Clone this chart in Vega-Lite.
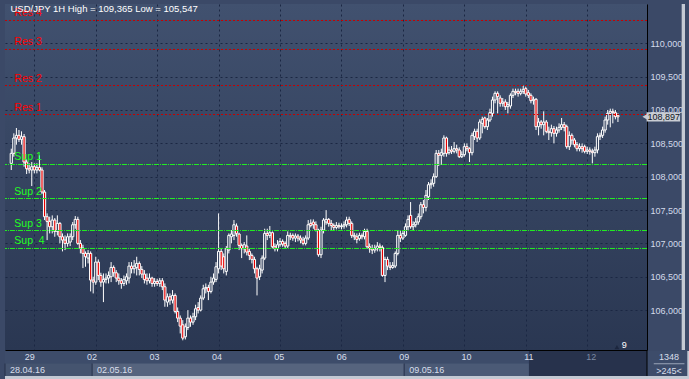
{
  "$schema": "https://vega.github.io/schema/vega-lite/v6.json",
  "background": "#3b4967",
  "padding": {"left": 4, "top": 4, "right": 0, "bottom": 0},
  "bounds": "flush",
  "spacing": 1,
  "resolve": {"scale": {"fill": "independent", "stroke": "independent", "color": "independent"}},
  "config": {"font": "Liberation Sans", "view": {"stroke": null}},
  "datasets": {
    "candles": [
      {"t":0,"o":108.20,"h":108.42,"l":108.10,"c":108.35},
      {"t":1,"o":108.35,"h":108.65,"l":108.30,"c":108.58},
      {"t":2,"o":108.58,"h":108.73,"l":108.48,"c":108.62},
      {"t":3,"o":108.62,"h":108.70,"l":108.52,"c":108.56},
      {"t":4,"o":108.56,"h":108.68,"l":108.48,"c":108.60},
      {"t":5,"o":108.60,"h":108.64,"l":108.15,"c":108.22},
      {"t":6,"o":108.22,"h":108.26,"l":108.04,"c":108.12},
      {"t":7,"o":108.12,"h":108.20,"l":108.05,"c":108.10},
      {"t":8,"o":108.10,"h":108.22,"l":107.86,"c":108.15},
      {"t":9,"o":108.15,"h":108.20,"l":108.05,"c":108.10},
      {"t":10,"o":108.10,"h":108.20,"l":108.05,"c":108.14},
      {"t":11,"o":108.14,"h":108.32,"l":108.08,"c":108.10},
      {"t":12,"o":108.10,"h":108.14,"l":107.74,"c":107.77},
      {"t":13,"o":107.77,"h":107.80,"l":107.35,"c":107.40},
      {"t":14,"o":107.40,"h":107.45,"l":107.05,"c":107.33},
      {"t":15,"o":107.33,"h":107.40,"l":107.15,"c":107.25},
      {"t":16,"o":107.25,"h":107.42,"l":107.15,"c":107.35},
      {"t":17,"o":107.35,"h":107.38,"l":107.10,"c":107.18},
      {"t":18,"o":107.18,"h":107.42,"l":107.12,"c":107.30},
      {"t":19,"o":107.30,"h":107.32,"l":107.00,"c":107.10},
      {"t":20,"o":107.10,"h":107.15,"l":106.88,"c":107.05},
      {"t":21,"o":107.05,"h":107.12,"l":106.90,"c":107.00},
      {"t":22,"o":107.00,"h":107.15,"l":106.95,"c":107.10},
      {"t":23,"o":107.02,"h":107.15,"l":106.96,"c":107.10},
      {"t":24,"o":107.10,"h":107.32,"l":107.05,"c":107.28},
      {"t":25,"o":107.28,"h":107.41,"l":107.22,"c":107.36},
      {"t":26,"o":107.36,"h":107.40,"l":106.98,"c":107.00},
      {"t":27,"o":107.00,"h":107.05,"l":106.85,"c":106.93},
      {"t":28,"o":106.93,"h":106.98,"l":106.63,"c":106.85},
      {"t":29,"o":106.85,"h":106.88,"l":106.65,"c":106.80},
      {"t":30,"o":106.78,"h":106.90,"l":106.70,"c":106.85},
      {"t":31,"o":106.85,"h":106.88,"l":106.28,"c":106.45},
      {"t":32,"o":106.45,"h":106.50,"l":106.25,"c":106.42},
      {"t":33,"o":106.42,"h":106.80,"l":106.38,"c":106.72},
      {"t":34,"o":106.72,"h":106.76,"l":106.45,"c":106.52},
      {"t":35,"o":106.52,"h":106.56,"l":106.35,"c":106.42},
      {"t":36,"o":106.42,"h":106.55,"l":106.12,"c":106.46},
      {"t":37,"o":106.46,"h":106.55,"l":106.40,"c":106.48},
      {"t":38,"o":106.48,"h":106.58,"l":106.40,"c":106.52},
      {"t":39,"o":106.50,"h":106.72,"l":106.42,"c":106.64},
      {"t":40,"o":106.64,"h":106.67,"l":106.50,"c":106.56},
      {"t":41,"o":106.56,"h":106.60,"l":106.42,"c":106.48},
      {"t":42,"o":106.48,"h":106.55,"l":106.38,"c":106.44},
      {"t":43,"o":106.44,"h":106.48,"l":106.32,"c":106.40},
      {"t":44,"o":106.40,"h":106.52,"l":106.36,"c":106.46},
      {"t":45,"o":106.44,"h":106.55,"l":106.38,"c":106.50},
      {"t":46,"o":106.48,"h":106.72,"l":106.40,"c":106.66},
      {"t":47,"o":106.66,"h":106.72,"l":106.55,"c":106.62},
      {"t":48,"o":106.62,"h":106.75,"l":106.55,"c":106.66},
      {"t":49,"o":106.64,"h":106.80,"l":106.52,"c":106.70},
      {"t":50,"o":106.70,"h":106.73,"l":106.52,"c":106.61},
      {"t":51,"o":106.61,"h":106.66,"l":106.48,"c":106.54},
      {"t":52,"o":106.54,"h":106.60,"l":106.40,"c":106.46},
      {"t":53,"o":106.48,"h":106.55,"l":106.38,"c":106.44},
      {"t":54,"o":106.44,"h":106.55,"l":106.40,"c":106.48},
      {"t":55,"o":106.48,"h":106.50,"l":106.35,"c":106.40},
      {"t":56,"o":106.40,"h":106.48,"l":106.35,"c":106.43},
      {"t":57,"o":106.43,"h":106.47,"l":106.36,"c":106.40},
      {"t":58,"o":106.40,"h":106.48,"l":106.35,"c":106.44},
      {"t":59,"o":106.44,"h":106.48,"l":106.30,"c":106.35},
      {"t":60,"o":106.35,"h":106.40,"l":106.05,"c":106.15},
      {"t":61,"o":106.12,"h":106.25,"l":106.05,"c":106.20},
      {"t":62,"o":106.20,"h":106.25,"l":106.08,"c":106.15},
      {"t":63,"o":106.15,"h":106.30,"l":106.10,"c":106.22},
      {"t":64,"o":106.22,"h":106.25,"l":105.95,"c":105.98},
      {"t":65,"o":105.98,"h":106.04,"l":105.82,"c":105.88},
      {"t":66,"o":105.88,"h":105.92,"l":105.65,"c":105.76},
      {"t":67,"o":105.78,"h":105.85,"l":105.547,"c":105.58},
      {"t":68,"o":105.60,"h":105.80,"l":105.56,"c":105.75},
      {"t":69,"o":105.74,"h":106.00,"l":105.70,"c":105.88},
      {"t":70,"o":105.88,"h":105.92,"l":105.75,"c":105.82},
      {"t":71,"o":105.82,"h":105.96,"l":105.78,"c":105.90},
      {"t":72,"o":105.90,"h":106.08,"l":105.85,"c":106.02},
      {"t":73,"o":106.04,"h":106.12,"l":105.95,"c":106.00},
      {"t":74,"o":106.00,"h":106.22,"l":105.98,"c":106.18},
      {"t":75,"o":106.18,"h":106.38,"l":106.15,"c":106.32},
      {"t":76,"o":106.32,"h":106.40,"l":106.25,"c":106.34},
      {"t":77,"o":106.34,"h":106.38,"l":106.15,"c":106.28},
      {"t":78,"o":106.28,"h":106.50,"l":106.25,"c":106.42},
      {"t":79,"o":106.42,"h":106.55,"l":106.38,"c":106.48},
      {"t":80,"o":106.46,"h":106.72,"l":106.42,"c":106.65},
      {"t":81,"o":106.62,"h":107.45,"l":106.55,"c":106.88},
      {"t":82,"o":106.88,"h":106.92,"l":106.60,"c":106.66},
      {"t":83,"o":106.80,"h":106.85,"l":106.55,"c":106.62},
      {"t":84,"o":106.58,"h":106.96,"l":106.52,"c":106.92},
      {"t":85,"o":106.90,"h":107.15,"l":106.85,"c":107.12},
      {"t":86,"o":107.10,"h":107.20,"l":107.00,"c":107.14},
      {"t":87,"o":107.12,"h":107.35,"l":107.05,"c":107.28},
      {"t":88,"o":107.26,"h":107.30,"l":107.10,"c":107.15},
      {"t":89,"o":107.14,"h":107.16,"l":106.90,"c":106.97},
      {"t":90,"o":106.97,"h":107.00,"l":106.78,"c":106.92},
      {"t":91,"o":106.92,"h":107.02,"l":106.85,"c":106.98},
      {"t":92,"o":106.96,"h":107.12,"l":106.82,"c":106.87},
      {"t":93,"o":106.88,"h":106.92,"l":106.75,"c":106.82},
      {"t":94,"o":106.82,"h":106.85,"l":106.70,"c":106.76},
      {"t":95,"o":106.76,"h":106.80,"l":106.55,"c":106.62},
      {"t":96,"o":106.62,"h":106.65,"l":106.22,"c":106.48},
      {"t":97,"o":106.50,"h":106.68,"l":106.45,"c":106.62},
      {"t":98,"o":106.60,"h":106.82,"l":106.55,"c":106.78},
      {"t":99,"o":106.78,"h":107.22,"l":106.75,"c":107.15},
      {"t":100,"o":107.15,"h":107.22,"l":107.05,"c":107.12},
      {"t":101,"o":107.12,"h":107.26,"l":107.08,"c":107.16},
      {"t":102,"o":107.16,"h":107.18,"l":106.92,"c":106.95},
      {"t":103,"o":106.95,"h":107.00,"l":106.88,"c":106.92},
      {"t":104,"o":106.92,"h":107.05,"l":106.88,"c":106.98},
      {"t":105,"o":106.98,"h":107.08,"l":106.95,"c":107.03},
      {"t":106,"o":107.03,"h":107.06,"l":106.95,"c":106.99},
      {"t":107,"o":107.00,"h":107.03,"l":106.92,"c":106.96},
      {"t":108,"o":106.96,"h":107.18,"l":106.93,"c":107.12},
      {"t":109,"o":107.12,"h":107.16,"l":107.05,"c":107.10},
      {"t":110,"o":107.12,"h":107.15,"l":107.04,"c":107.08},
      {"t":111,"o":107.08,"h":107.15,"l":107.02,"c":107.11},
      {"t":112,"o":107.11,"h":107.14,"l":107.03,"c":107.08},
      {"t":113,"o":107.08,"h":107.12,"l":107.00,"c":107.05},
      {"t":114,"o":107.05,"h":107.10,"l":106.97,"c":107.00},
      {"t":115,"o":107.00,"h":107.12,"l":106.97,"c":107.08},
      {"t":116,"o":107.08,"h":107.35,"l":107.05,"c":107.28},
      {"t":117,"o":107.30,"h":107.36,"l":107.24,"c":107.27},
      {"t":118,"o":107.32,"h":107.36,"l":107.22,"c":107.28},
      {"t":119,"o":107.28,"h":107.33,"l":107.18,"c":107.20},
      {"t":120,"o":107.20,"h":107.22,"l":106.80,"c":106.83},
      {"t":121,"o":106.83,"h":107.25,"l":106.78,"c":107.20},
      {"t":122,"o":107.20,"h":107.38,"l":107.15,"c":107.35},
      {"t":123,"o":107.32,"h":107.50,"l":107.28,"c":107.36},
      {"t":124,"o":107.36,"h":107.38,"l":107.25,"c":107.30},
      {"t":125,"o":107.30,"h":107.35,"l":107.20,"c":107.27},
      {"t":126,"o":107.27,"h":107.30,"l":107.20,"c":107.24},
      {"t":127,"o":107.24,"h":107.32,"l":107.21,"c":107.27},
      {"t":128,"o":107.27,"h":107.31,"l":107.22,"c":107.25},
      {"t":129,"o":107.25,"h":107.30,"l":107.21,"c":107.26},
      {"t":130,"o":107.26,"h":107.33,"l":107.22,"c":107.28},
      {"t":131,"o":107.28,"h":107.40,"l":107.24,"c":107.35},
      {"t":132,"o":107.36,"h":107.40,"l":107.26,"c":107.30},
      {"t":133,"o":107.30,"h":107.33,"l":107.08,"c":107.12},
      {"t":134,"o":107.12,"h":107.16,"l":107.05,"c":107.10},
      {"t":135,"o":107.10,"h":107.15,"l":107.00,"c":107.06},
      {"t":136,"o":107.07,"h":107.16,"l":107.04,"c":107.12},
      {"t":137,"o":107.12,"h":107.15,"l":107.06,"c":107.10},
      {"t":138,"o":107.10,"h":107.22,"l":107.06,"c":107.18},
      {"t":139,"o":107.18,"h":107.22,"l":106.92,"c":106.95},
      {"t":140,"o":106.95,"h":107.00,"l":106.86,"c":106.92},
      {"t":141,"o":106.92,"h":106.98,"l":106.84,"c":106.90},
      {"t":142,"o":106.90,"h":106.98,"l":106.86,"c":106.93},
      {"t":143,"o":106.92,"h":107.02,"l":106.88,"c":106.96},
      {"t":144,"o":106.96,"h":107.00,"l":106.88,"c":106.94},
      {"t":145,"o":106.94,"h":106.97,"l":106.50,"c":106.52},
      {"t":146,"o":106.52,"h":106.80,"l":106.42,"c":106.76},
      {"t":147,"o":106.76,"h":106.80,"l":106.60,"c":106.66},
      {"t":148,"o":106.66,"h":106.72,"l":106.60,"c":106.64},
      {"t":149,"o":106.64,"h":106.72,"l":106.62,"c":106.67},
      {"t":150,"o":106.66,"h":106.88,"l":106.63,"c":106.85},
      {"t":151,"o":106.85,"h":107.20,"l":106.82,"c":107.12},
      {"t":152,"o":107.12,"h":107.20,"l":107.02,"c":107.08},
      {"t":153,"o":107.08,"h":107.20,"l":107.05,"c":107.15},
      {"t":154,"o":107.12,"h":107.30,"l":107.10,"c":107.25},
      {"t":155,"o":107.25,"h":107.42,"l":107.20,"c":107.36},
      {"t":156,"o":107.42,"h":107.62,"l":107.22,"c":107.25},
      {"t":157,"o":107.25,"h":107.33,"l":107.20,"c":107.28},
      {"t":158,"o":107.28,"h":107.38,"l":107.24,"c":107.32},
      {"t":159,"o":107.32,"h":107.45,"l":107.28,"c":107.40},
      {"t":160,"o":107.40,"h":107.62,"l":107.36,"c":107.58},
      {"t":161,"o":107.58,"h":107.65,"l":107.45,"c":107.54},
      {"t":162,"o":107.54,"h":107.80,"l":107.48,"c":107.72},
      {"t":163,"o":107.70,"h":107.92,"l":107.65,"c":107.88},
      {"t":164,"o":107.88,"h":107.96,"l":107.82,"c":107.90},
      {"t":165,"o":107.90,"h":108.05,"l":107.85,"c":108.00},
      {"t":166,"o":108.00,"h":108.40,"l":107.98,"c":108.35},
      {"t":167,"o":108.35,"h":108.40,"l":108.16,"c":108.32},
      {"t":168,"o":108.32,"h":108.42,"l":108.18,"c":108.36},
      {"t":169,"o":108.35,"h":108.62,"l":108.30,"c":108.58},
      {"t":170,"o":108.58,"h":108.60,"l":108.30,"c":108.35},
      {"t":171,"o":108.36,"h":108.45,"l":108.33,"c":108.40},
      {"t":172,"o":108.40,"h":108.46,"l":108.34,"c":108.38},
      {"t":173,"o":108.38,"h":108.52,"l":108.35,"c":108.42},
      {"t":174,"o":108.42,"h":108.48,"l":108.35,"c":108.40},
      {"t":175,"o":108.40,"h":108.44,"l":108.28,"c":108.30},
      {"t":176,"o":108.30,"h":108.38,"l":108.28,"c":108.33},
      {"t":177,"o":108.33,"h":108.50,"l":108.30,"c":108.45},
      {"t":178,"o":108.45,"h":108.50,"l":108.38,"c":108.42},
      {"t":179,"o":108.42,"h":108.44,"l":108.22,"c":108.36},
      {"t":180,"o":108.36,"h":108.66,"l":108.32,"c":108.62},
      {"t":181,"o":108.60,"h":108.72,"l":108.55,"c":108.68},
      {"t":182,"o":108.68,"h":108.72,"l":108.52,"c":108.58},
      {"t":183,"o":108.58,"h":108.86,"l":108.55,"c":108.82},
      {"t":184,"o":108.80,"h":108.90,"l":108.65,"c":108.86},
      {"t":185,"o":108.88,"h":108.90,"l":108.72,"c":108.75},
      {"t":186,"o":108.75,"h":108.88,"l":108.70,"c":108.85},
      {"t":187,"o":108.85,"h":109.02,"l":108.82,"c":108.96},
      {"t":188,"o":108.95,"h":109.20,"l":108.90,"c":109.15},
      {"t":189,"o":109.15,"h":109.28,"l":109.10,"c":109.25},
      {"t":190,"o":109.25,"h":109.28,"l":108.95,"c":109.20},
      {"t":191,"o":109.18,"h":109.22,"l":109.05,"c":109.10},
      {"t":192,"o":109.10,"h":109.18,"l":109.05,"c":109.12},
      {"t":193,"o":109.12,"h":109.16,"l":109.00,"c":109.05},
      {"t":194,"o":109.05,"h":109.12,"l":108.95,"c":109.08},
      {"t":195,"o":109.06,"h":109.25,"l":109.02,"c":109.22},
      {"t":196,"o":109.22,"h":109.32,"l":109.18,"c":109.28},
      {"t":197,"o":109.28,"h":109.32,"l":109.22,"c":109.26},
      {"t":198,"o":109.28,"h":109.32,"l":109.20,"c":109.25},
      {"t":199,"o":109.25,"h":109.32,"l":109.22,"c":109.28},
      {"t":200,"o":109.28,"h":109.365,"l":109.24,"c":109.31},
      {"t":201,"o":109.32,"h":109.35,"l":109.20,"c":109.24},
      {"t":202,"o":109.26,"h":109.30,"l":109.18,"c":109.22},
      {"t":203,"o":109.22,"h":109.25,"l":109.10,"c":109.14},
      {"t":204,"o":109.14,"h":109.20,"l":109.08,"c":109.16},
      {"t":205,"o":109.16,"h":109.18,"l":108.70,"c":108.75},
      {"t":206,"o":108.75,"h":108.88,"l":108.62,"c":108.82},
      {"t":207,"o":108.82,"h":108.85,"l":108.72,"c":108.78},
      {"t":208,"o":108.78,"h":108.98,"l":108.62,"c":108.82},
      {"t":209,"o":108.82,"h":108.85,"l":108.65,"c":108.68},
      {"t":210,"o":108.68,"h":108.75,"l":108.55,"c":108.66},
      {"t":211,"o":108.66,"h":108.78,"l":108.60,"c":108.72},
      {"t":212,"o":108.72,"h":108.76,"l":108.50,"c":108.65},
      {"t":213,"o":108.65,"h":108.75,"l":108.60,"c":108.70},
      {"t":214,"o":108.70,"h":108.80,"l":108.66,"c":108.74},
      {"t":215,"o":108.74,"h":108.88,"l":108.70,"c":108.78},
      {"t":216,"o":108.78,"h":108.82,"l":108.68,"c":108.74},
      {"t":217,"o":108.75,"h":108.78,"l":108.42,"c":108.45},
      {"t":218,"o":108.45,"h":108.68,"l":108.40,"c":108.62},
      {"t":219,"o":108.62,"h":108.65,"l":108.48,"c":108.55},
      {"t":220,"o":108.55,"h":108.58,"l":108.44,"c":108.48},
      {"t":221,"o":108.48,"h":108.52,"l":108.38,"c":108.42},
      {"t":222,"o":108.42,"h":108.50,"l":108.38,"c":108.45},
      {"t":223,"o":108.45,"h":108.50,"l":108.36,"c":108.42},
      {"t":224,"o":108.45,"h":108.48,"l":108.35,"c":108.38},
      {"t":225,"o":108.38,"h":108.45,"l":108.34,"c":108.40},
      {"t":226,"o":108.40,"h":108.44,"l":108.33,"c":108.38},
      {"t":227,"o":108.38,"h":108.42,"l":108.20,"c":108.36},
      {"t":228,"o":108.36,"h":108.45,"l":108.30,"c":108.40},
      {"t":229,"o":108.40,"h":108.65,"l":108.35,"c":108.60},
      {"t":230,"o":108.60,"h":108.66,"l":108.55,"c":108.62},
      {"t":231,"o":108.62,"h":108.75,"l":108.58,"c":108.70},
      {"t":232,"o":108.70,"h":108.90,"l":108.66,"c":108.85},
      {"t":233,"o":108.85,"h":109.00,"l":108.78,"c":108.95},
      {"t":234,"o":108.95,"h":109.02,"l":108.74,"c":108.98},
      {"t":235,"o":108.98,"h":109.02,"l":108.80,"c":108.96},
      {"t":236,"o":108.96,"h":109.00,"l":108.86,"c":108.90},
      {"t":237,"o":108.92,"h":108.95,"l":108.82,"c":108.897}
    ],
    "levels": [
      {"name":"Res 4","p":110.342,"kind":"res"},
      {"name":"Res 3","p":109.907,"kind":"res"},
      {"name":"Res 2","p":109.367,"kind":"res"},
      {"name":"Res 1","p":108.932,"kind":"res"},
      {"name":"Sup 1","p":108.183,"kind":"sup"},
      {"name":"Sup 2","p":107.673,"kind":"sup"},
      {"name":"Sup 3","p":107.193,"kind":"sup"},
      {"name":"Sup \u00a04","p":106.924,"kind":"sup"}
    ],
    "days": [
      {"t":9,"lab":"29"},{"t":33,"lab":"02"},{"t":57,"lab":"03"},{"t":81,"lab":"04"},{"t":105,"lab":"05"},
      {"t":129,"lab":"06"},{"t":153,"lab":"09"},{"t":177,"lab":"10"},{"t":201,"lab":"11"},{"t":225,"lab":"12"}
    ],
    "weeks": [
      {"t":-0.5,"lab":"28.04.16"},{"t":33,"lab":"02.05.16"},{"t":153,"lab":"09.05.16"}
    ],
    "segs": [
      {"t0":-0.5,"t1":201,"r0":1,"r1":2,"k":"top"},
      {"t0":-0.5,"t1":33,"r0":0,"r1":1,"k":"w0"},
      {"t0":33,"t1":153,"r0":0,"r1":1,"k":"w1"},
      {"t0":153,"t1":201,"r0":0,"r1":1,"k":"w2"},
      {"t0":201,"t1":246.4,"r0":0,"r1":2,"k":"dark"},
      {"t0":246.4,"t1":261.9,"r0":0,"r1":2,"k":"corner"},
      {"t0":261.9,"t1":263.2,"r0":0,"r1":2,"k":"frame"},
      {"t0":-0.5,"t1":263.2,"r0":-0.24,"r1":0,"k":"frame"}
    ]
  },
  "vconcat": [
    {
      "width": 642,
      "height": 346,
      "view": {"stroke": null, "fill": {"gradient": "linear", "x1": 0, "y1": 0, "x2": 0, "y2": 1, "stops": [{"offset": 0, "color": "#41516f"}, {"offset": 1, "color": "#2a3752"}]}},
      "layer": [
        {
          "data": {"name": "candles"},
          "mark": {"type": "rule", "color": "#ffffff", "strokeWidth": 1},
          "encoding": {
            "x": {"field": "t", "type": "quantitative",
              "scale": {"domain": [-0.5, 246.4], "nice": false, "zero": false},
              "axis": {"orient": "bottom", "values": [9,33,57,81,105,129,153,177,201,225], "labels": false, "ticks": false, "title": null, "grid": true, "gridColor": "#1b2743", "gridDash": [2,3], "domain": true, "domainColor": "#000000"}},
            "y": {"field": "l", "type": "quantitative",
              "scale": {"domain": [105.402, 110.589], "nice": false, "zero": false},
              "axis": {"orient": "right", "values": [106,106.5,107,107.5,108,108.5,109,109.5,110], "labelExpr": "replace(format(datum.value,'.3f'),'.',',')", "ticks": false, "labelPadding": 3, "labelColor": "#d3dbea", "labelFontSize": 9, "labelFont": "Liberation Sans", "title": null, "grid": true, "gridColor": "#1b2743", "gridDash": [2,3], "domain": true, "domainColor": "#000000", "labelAlign": "left", "labelBaseline": "middle"}},
            "y2": {"field": "h"}
          }
        },
        {
          "data": {"name": "candles"},
          "mark": {"type": "bar", "width": 2.2, "stroke": "#ffffff", "strokeWidth": 1},
          "encoding": {
            "x": {"field": "t", "type": "quantitative"},
            "y": {"field": "o", "type": "quantitative"},
            "y2": {"field": "c"},
            "fill": {"condition": {"test": "datum.c < datum.o", "value": "#e60000"}, "value": "#34425e"}
          }
        },
        {
          "data": {"name": "levels"},
          "mark": {"type": "rule", "strokeWidth": 1},
          "encoding": {
            "y": {"field": "p", "type": "quantitative"},
            "stroke": {"field": "kind", "type": "nominal", "scale": {"domain": ["res","sup"], "range": ["#c80000","#22ee22"]}, "legend": null},
            "strokeDash": {"field": "kind", "type": "nominal", "scale": {"domain": ["res","sup"], "range": [[2,2],[5,1,1,1]]}, "legend": null}
          }
        },
        {
          "data": {"name": "levels"},
          "mark": {"type": "text", "align": "left", "baseline": "alphabetic", "dy": -4, "fontSize": 10.5, "font": "Liberation Sans"},
          "encoding": {
            "x": {"datum": 1.2, "type": "quantitative"},
            "y": {"field": "p", "type": "quantitative"},
            "text": {"field": "name"},
            "fill": {"field": "kind", "type": "nominal", "scale": {"domain": ["res","sup"], "range": ["#ff0000","#22ff22"]}, "legend": null}
          }
        },
        {
          "data": {"values": [{"s": "USD/JPY 1H High = 109,365 Low = 105,547"}]},
          "mark": {"type": "text", "align": "left", "baseline": "alphabetic", "dy": 8, "dx": 0.5, "fontSize": 9.5, "color": "#ffffff", "font": "Liberation Sans"},
          "encoding": {
            "x": {"datum": -0.5, "type": "quantitative"},
            "y": {"datum": 110.589, "type": "quantitative"},
            "text": {"field": "s"}
          }
        },
        {
          "data": {"values": [{"p": 108.897, "s": "108,897"}]},
          "mark": {"type": "rect", "color": "#c9cdd4"},
          "encoding": {
            "x": {"datum": 248.2, "type": "quantitative"},
            "x2": {"datum": 261.3},
            "y": {"datum": 108.967, "type": "quantitative"},
            "y2": {"datum": 108.827}
          }
        },
        {
          "data": {"values": [{"p": 108.897, "s": "108,897"}]},
          "mark": {"type": "point", "shape": "triangle-left", "filled": true, "color": "#c9cdd4", "size": 45, "opacity": 1},
          "encoding": {
            "x": {"datum": 247.7, "type": "quantitative"},
            "y": {"field": "p", "type": "quantitative"}
          }
        },
        {
          "data": {"values": [{"p": 108.897, "s": "108,897"}]},
          "mark": {"type": "text", "align": "center", "baseline": "middle", "fontSize": 9, "color": "#10141c", "font": "Liberation Sans"},
          "encoding": {
            "x": {"datum": 254.9, "type": "quantitative"},
            "y": {"field": "p", "type": "quantitative"},
            "text": {"field": "s"}
          }
        },
        {
          "data": {"values": [{"s": "9"}]},
          "mark": {"type": "text", "align": "center", "baseline": "middle", "fontSize": 9, "color": "#ffffff", "font": "Liberation Sans"},
          "encoding": {
            "x": {"datum": 239.5, "type": "quantitative"},
            "y": {"datum": 105.47, "type": "quantitative"},
            "text": {"field": "s"}
          }
        },
        {
          "data": {"values": [{"s": "9"}]},
          "mark": {"type": "point", "shape": "triangle-up", "filled": true, "color": "#1c263e", "size": 22, "opacity": 1},
          "encoding": {
            "x": {"datum": 236.6, "type": "quantitative"},
            "y": {"datum": 105.445, "type": "quantitative"}
          }
        },
        {
          "data": {"values": [{"s": "frame"}]},
          "mark": {"type": "rect", "color": "#c3c9d3"},
          "encoding": {
            "x": {"datum": 261.9, "type": "quantitative"},
            "x2": {"datum": 263.2},
            "y": {"datum": 110.589, "type": "quantitative"},
            "y2": {"datum": 105.402}
          }
        }
      ]
    },
    {
      "width": 642,
      "height": 25,
      "layer": [
        {
          "data": {"name": "segs"},
          "mark": {"type": "rect"},
          "encoding": {
            "x": {"field": "t0", "type": "quantitative", "scale": {"domain": [-0.5, 246.4], "nice": false, "zero": false}, "axis": null},
            "x2": {"field": "t1"},
            "y": {"field": "r0", "type": "quantitative", "scale": {"domain": [0, 2], "nice": false, "zero": false}, "axis": null},
            "y2": {"field": "r1"},
            "fill": {"field": "k", "type": "nominal", "legend": null,
              "scale": {"domain": ["top","w0","w1","w2","dark","corner","frame"], "range": ["#3d4c6a","#45546f","#56647e","#4b5a76","#27324c","#3d4c6a","#c3c9d3"]}}
          }
        },
        {
          "data": {"name": "weeks"},
          "mark": {"type": "rule", "color": "#26314b", "strokeWidth": 1},
          "encoding": {
            "x": {"field": "t", "type": "quantitative"},
            "y": {"datum": 0, "type": "quantitative"},
            "y2": {"datum": 1}
          }
        },
        {
          "data": {"name": "days"},
          "mark": {"type": "text", "align": "center", "baseline": "middle", "fontSize": 9, "font": "Liberation Sans"},
          "encoding": {
            "x": {"field": "t", "type": "quantitative"},
            "y": {"datum": 1.52, "type": "quantitative"},
            "text": {"field": "lab"},
            "color": {"condition": {"test": "datum.lab === '12'", "value": "#7d8aa2"}, "value": "#d8dfeb"}
          }
        },
        {
          "data": {"name": "weeks"},
          "mark": {"type": "text", "align": "left", "baseline": "middle", "dx": 5, "fontSize": 9, "color": "#d8dfeb", "font": "Liberation Sans"},
          "encoding": {
            "x": {"field": "t", "type": "quantitative"},
            "y": {"datum": 0.5, "type": "quantitative"},
            "text": {"field": "lab"}
          }
        },
        {
          "data": {"values": [{"s": "1348", "r": 1.52}, {"s": ">245<", "r": 0.42}]},
          "mark": {"type": "text", "align": "center", "baseline": "middle", "fontSize": 9, "color": "#d8dfeb", "font": "Liberation Sans"},
          "encoding": {
            "x": {"datum": 254.9, "type": "quantitative"},
            "y": {"field": "r", "type": "quantitative"},
            "text": {"field": "s"}
          }
        },
        {
          "data": {"values": [{"s": "line"}]},
          "mark": {"type": "rule", "color": "#9aa5b8", "strokeWidth": 1},
          "encoding": {
            "x": {"datum": 249.0, "type": "quantitative"},
            "x2": {"datum": 260.8},
            "y": {"datum": 0.98, "type": "quantitative"}
          }
        },
        {
          "data": {"values": [{"s": "axis"}]},
          "mark": {"type": "rule", "color": "#000000", "strokeWidth": 1},
          "encoding": {
            "x": {"datum": 246.4, "type": "quantitative"},
            "y": {"datum": 0, "type": "quantitative"},
            "y2": {"datum": 2}
          }
        }
      ]
    }
  ]
}
